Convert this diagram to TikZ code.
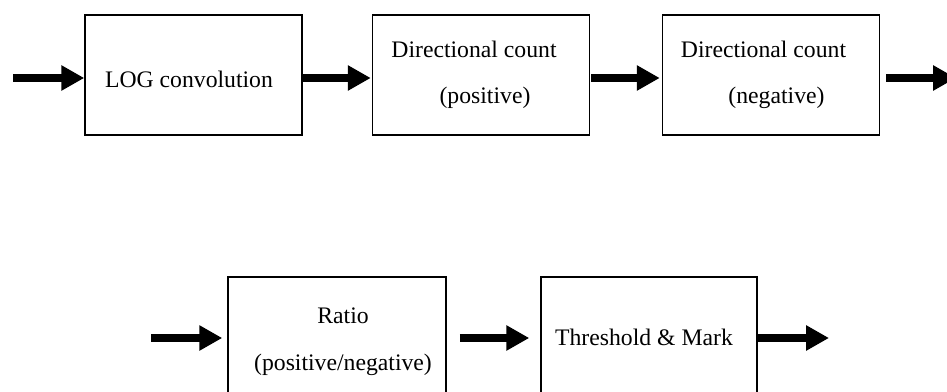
\documentclass[tikz,border=0pt]{standalone}
\usepackage{fontspec}
\setmainfont{Liberation Serif}
\usetikzlibrary{arrows.meta}
\begin{document}
\begin{tikzpicture}[x=1pt,y=-1pt,
  stagebox/.style={draw=black, line width=1.5pt, minimum width=217pt, minimum height=120pt, inner sep=0pt},
  lbl/.style={anchor=base, inner sep=0pt, font=\fontsize{23.7}{28}\selectfont},
  flow/.style={line width=8pt, -{Triangle[length=23pt,width=24pt]}}]
\useasboundingbox (0,0) rectangle (947,391);

% upper row of stages
\node[stagebox] (log) at (193.5,75) {};
\node[stagebox] (pos) at (481,75) {};
\node[stagebox] (neg) at (771,75) {};
\node[lbl] (tlog) at (189,87) {LOG convolution};
\node[lbl] (tpos1) at (474,57) {Directional count};
\node[lbl] (tpos2) at (485,103) {(positive)};
\node[lbl] (tneg1) at (763.5,57) {Directional count};
\node[lbl] (tneg2) at (776.5,103) {(negative)};

% lower row of stages
\node[stagebox, minimum width=218pt] (ratio) at (337,337) {};
\node[stagebox, minimum width=216pt] (thr) at (649,337) {};
\node[lbl] (tratio1) at (343,323) {Ratio};
\node[lbl] (tratio2) at (343,370) {(positive/negative)};
\node[lbl] (tthr) at (644,345) {Threshold \& Mark};

% free ends of the input and output arrows
\coordinate (in1) at (13,78);
\coordinate (out1) at (956,78);
\coordinate (in2) at (151,338);
\coordinate (out2) at (829,338);

% upper row connectors
\draw[flow] (in1) -- ([yshift=-3pt]log.west);
\draw[flow] ([yshift=-3pt]log.east) -- ([xshift=-1pt,yshift=-3pt]pos.west);
\draw[flow] ([xshift=1pt,yshift=-3pt]pos.east) -- ([xshift=-2pt,yshift=-3pt]neg.west);
\draw[flow] ([xshift=6pt,yshift=-3pt]neg.east) -- (out1);

% lower row connectors
\draw[flow] (in2) -- ([xshift=-5pt,yshift=-1pt]ratio.west);
\draw[flow] ([xshift=13pt,yshift=-1pt]ratio.east) -- ([xshift=-11pt,yshift=-1pt]thr.west);
\draw[flow] ([yshift=-1pt]thr.east) -- (out2);
\end{tikzpicture}
\end{document}
